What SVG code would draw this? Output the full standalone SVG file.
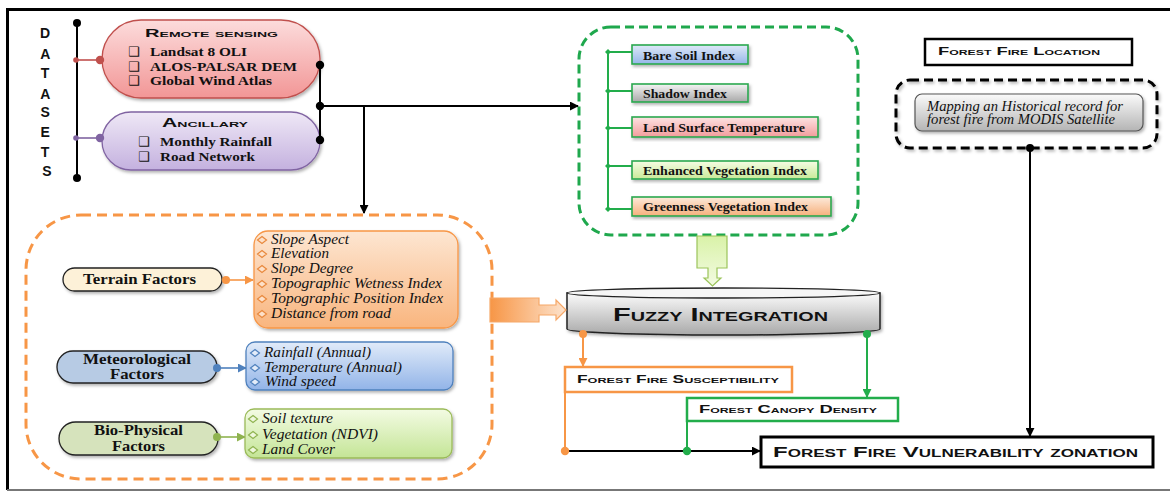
<svg xmlns="http://www.w3.org/2000/svg" width="1170" height="493" viewBox="0 0 1170 493">
  <defs>
    <style>
      .sc { font-family: "Liberation Sans", Arial, sans-serif; font-weight: bold; font-variant: small-caps; fill: #111; }
      .sb { font-family: "Liberation Serif", "Times New Roman", serif; font-weight: bold; fill: #111; }
      .si { font-family: "Liberation Serif", "Times New Roman", serif; font-style: italic; fill: #111; }
      .chk { font-family: "DejaVu Sans", sans-serif; font-size: 13px; fill: #111; }
      .blk { stroke: #000; stroke-width: 2; fill: none; }
      .dot { fill: #000; }
      .gbox { stroke: #2aa84f; stroke-width: 1.6; }
      .grn { stroke: #22ad4b; stroke-width: 2; fill: none; }
      .org { stroke: #f79646; stroke-width: 2; fill: none; }
    </style>
    <filter id="sh" x="-10%" y="-10%" width="125%" height="135%">
      <feDropShadow dx="1.5" dy="2" stdDeviation="1.5" flood-color="#000" flood-opacity="0.3"/>
    </filter>
    <linearGradient id="gRemote" x1="0" y1="0" x2="0" y2="1">
      <stop offset="0" stop-color="#fcdcdc"/><stop offset="1" stop-color="#f29696"/>
    </linearGradient>
    <linearGradient id="gAnc" x1="0" y1="0" x2="0" y2="1">
      <stop offset="0" stop-color="#efe8f6"/><stop offset="1" stop-color="#c4b1df"/>
    </linearGradient>
    <linearGradient id="gBlue" x1="0" y1="0" x2="0" y2="1">
      <stop offset="0" stop-color="#dfe9f8"/><stop offset="1" stop-color="#95b6e9"/>
    </linearGradient>
    <linearGradient id="gGray" x1="0" y1="0" x2="0" y2="1">
      <stop offset="0" stop-color="#f4f4f4"/><stop offset="1" stop-color="#a8a8a8"/>
    </linearGradient>
    <linearGradient id="gRed" x1="0" y1="0" x2="0" y2="1">
      <stop offset="0" stop-color="#fde3e3"/><stop offset="1" stop-color="#f29c9c"/>
    </linearGradient>
    <linearGradient id="gLime" x1="0" y1="0" x2="0" y2="1">
      <stop offset="0" stop-color="#f5fce4"/><stop offset="1" stop-color="#c9ea98"/>
    </linearGradient>
    <linearGradient id="gPeach" x1="0" y1="0" x2="0" y2="1">
      <stop offset="0" stop-color="#fdeadb"/><stop offset="1" stop-color="#f6b07c"/>
    </linearGradient>
    <linearGradient id="gOrangeList" x1="0" y1="0" x2="0" y2="1">
      <stop offset="0" stop-color="#fde6d2"/><stop offset="1" stop-color="#f9b57e"/>
    </linearGradient>
    <linearGradient id="gBlueList" x1="0" y1="0" x2="0" y2="1">
      <stop offset="0" stop-color="#e1ebf9"/><stop offset="1" stop-color="#92b4e8"/>
    </linearGradient>
    <linearGradient id="gGreenList" x1="0" y1="0" x2="0" y2="1">
      <stop offset="0" stop-color="#f3fbe3"/><stop offset="1" stop-color="#c4e596"/>
    </linearGradient>
    <linearGradient id="gCyl" x1="0" y1="0" x2="0" y2="1">
      <stop offset="0" stop-color="#fbfbfb"/><stop offset="1" stop-color="#a9a9a9"/>
    </linearGradient>
    <linearGradient id="gModis" x1="0" y1="0" x2="0" y2="1">
      <stop offset="0" stop-color="#fbfbfb"/><stop offset="1" stop-color="#b4b4b4"/>
    </linearGradient>
    <linearGradient id="gOrArrow" x1="0" y1="0" x2="1" y2="0">
      <stop offset="0" stop-color="#f79646"/><stop offset="1" stop-color="#fde3cd"/>
    </linearGradient>
    <linearGradient id="gGrArrow" x1="0" y1="0" x2="0" y2="1">
      <stop offset="0" stop-color="#d9f2a8"/><stop offset="1" stop-color="#f3fbe2"/>
    </linearGradient>
    <marker id="aBlkL" viewBox="0 0 10 10" refX="9" refY="5" markerWidth="9" markerHeight="9" markerUnits="userSpaceOnUse" orient="auto">
      <path d="M0,0 L10,5 L0,10 Z" fill="#000"/>
    </marker>
    <marker id="aOrg" viewBox="0 0 10 10" refX="9" refY="5" markerWidth="9" markerHeight="9" markerUnits="userSpaceOnUse" orient="auto">
      <path d="M0,0 L10,5 L0,10 Z" fill="#f79646"/>
    </marker>
    <marker id="aGrn" viewBox="0 0 10 10" refX="9" refY="5" markerWidth="9" markerHeight="9" markerUnits="userSpaceOnUse" orient="auto">
      <path d="M0,0 L10,5 L0,10 Z" fill="#22ad4b"/>
    </marker>
    <marker id="aBlu" viewBox="0 0 10 10" refX="9" refY="5" markerWidth="9" markerHeight="9" markerUnits="userSpaceOnUse" orient="auto">
      <path d="M0,0 L10,5 L0,10 Z" fill="#4f81bd"/>
    </marker>
    <marker id="aLim" viewBox="0 0 10 10" refX="9" refY="5" markerWidth="9" markerHeight="9" markerUnits="userSpaceOnUse" orient="auto">
      <path d="M0,0 L10,5 L0,10 Z" fill="#8fb34f"/>
    </marker>
    <marker id="dGrn" viewBox="0 0 10 10" refX="5" refY="5" markerWidth="6" markerHeight="6" markerUnits="userSpaceOnUse">
      <path d="M5,0 L10,5 L5,10 L0,5 Z" fill="#22ad4b"/>
    </marker>
    <!-- list bullet -->
    <path id="dia" d="M0,-3.5 L4.5,0 L0,3.5 L-4.5,0 Z"/>
  </defs>

  <rect width="1170" height="493" fill="#fff"/>

  <!-- page frame -->
  <g id="frame">
    <line x1="7" y1="9.5" x2="1170" y2="9.5" stroke="#000" stroke-width="3"/>
    <line x1="7.5" y1="8" x2="7.5" y2="490" stroke="#000" stroke-width="3"/>
    <line x1="7" y1="490" x2="1170" y2="490" stroke="#777" stroke-width="2"/>
  </g>

  <!-- DATASETS spine -->
  <g id="datasets">
    <text class="sc" font-size="14" text-anchor="middle">
      <tspan x="47" y="38">D</tspan>
      <tspan x="47" y="59">A</tspan>
      <tspan x="47" y="78">T</tspan>
      <tspan x="47" y="99">A</tspan>
      <tspan x="47" y="117">S</tspan>
      <tspan x="47" y="137">E</tspan>
      <tspan x="47" y="157">T</tspan>
      <tspan x="47" y="176">S</tspan>
    </text>
    <line x1="77" y1="23" x2="77" y2="178" stroke="#000" stroke-width="2"/>
    <circle class="dot" cx="77" cy="23" r="4"/>
    <circle class="dot" cx="77" cy="178" r="4"/>
  </g>

  <!-- Remote sensing -->
  <g id="remote-sensing">
    <line x1="76" y1="60" x2="100" y2="60" stroke="#c0504d" stroke-width="1.6"/>
    <circle cx="76" cy="60" r="2.8" fill="#c0504d"/>
    <rect x="102" y="20" width="218" height="78" rx="39" fill="url(#gRemote)" stroke="#c0504d" stroke-width="1.3" filter="url(#sh)"/>
    <circle cx="100" cy="60" r="4.2" fill="#c0504d"/>
    <text class="sc" x="145" y="37" font-size="11.5" textLength="133" lengthAdjust="spacingAndGlyphs">Remote sensing</text>
    <text class="chk" x="128" y="56">❑</text>
    <text class="sb" x="150" y="56" font-size="13" textLength="97" lengthAdjust="spacingAndGlyphs">Landsat 8 OLI</text>
    <text class="chk" x="128" y="71">❑</text>
    <text class="sb" x="150" y="71" font-size="13" textLength="147" lengthAdjust="spacingAndGlyphs">ALOS-PALSAR DEM</text>
    <text class="chk" x="128" y="85">❑</text>
    <text class="sb" x="150" y="85" font-size="13" textLength="122" lengthAdjust="spacingAndGlyphs">Global Wind Atlas</text>
  </g>

  <!-- Ancillary -->
  <g id="ancillary">
    <line x1="76" y1="138" x2="100" y2="138" stroke="#8064a2" stroke-width="1.6"/>
    <circle cx="76" cy="138" r="2.8" fill="#8064a2"/>
    <rect x="102" y="112" width="218" height="58" rx="29" fill="url(#gAnc)" stroke="#8064a2" stroke-width="1.3" filter="url(#sh)"/>
    <circle cx="100" cy="138" r="4.2" fill="#8064a2"/>
    <text class="sc" x="162" y="127" font-size="12" textLength="86" lengthAdjust="spacingAndGlyphs">Ancillary</text>
    <text class="chk" x="138" y="146">❑</text>
    <text class="sb" x="160" y="146" font-size="13" textLength="112" lengthAdjust="spacingAndGlyphs">Monthly Rainfall</text>
    <text class="chk" x="138" y="161">❑</text>
    <text class="sb" x="160" y="161" font-size="13" textLength="95" lengthAdjust="spacingAndGlyphs">Road Network</text>
  </g>

  <!-- Spectral indices -->
  <g id="indices">
    <rect x="579" y="27" width="279" height="208" rx="32" fill="none" stroke="#1fa84d" stroke-width="3" stroke-dasharray="9 5"/>
    <line x1="608" y1="52" x2="608" y2="209" class="grn" stroke-width="1.8"/>
    <polyline points="608,52 632,52" class="grn" stroke-width="1.8" marker-start="url(#dGrn)"/>
    <polyline points="608,91 632,91" class="grn" stroke-width="1.8" marker-start="url(#dGrn)"/>
    <polyline points="608,128 632,128" class="grn" stroke-width="1.8" marker-start="url(#dGrn)"/>
    <polyline points="608,166 632,166" class="grn" stroke-width="1.8" marker-start="url(#dGrn)"/>
    <polyline points="608,209 632,209" class="grn" stroke-width="1.8" marker-start="url(#dGrn)"/>

    <g id="bare-soil">
      <rect x="632" y="45" width="116" height="19" fill="url(#gBlue)" class="gbox" filter="url(#sh)"/>
      <text class="sb" x="643" y="60" font-size="12.5" textLength="92" lengthAdjust="spacingAndGlyphs">Bare Soil Index</text>
    </g>
    <g id="shadow">
      <rect x="632" y="84" width="116" height="18" fill="url(#gGray)" class="gbox" filter="url(#sh)"/>
      <text class="sb" x="643" y="98" font-size="12.5" textLength="84" lengthAdjust="spacingAndGlyphs">Shadow Index</text>
    </g>
    <g id="lst">
      <rect x="632" y="117" width="186" height="20" fill="url(#gRed)" class="gbox" filter="url(#sh)"/>
      <text class="sb" x="643" y="132" font-size="12.5" textLength="162" lengthAdjust="spacingAndGlyphs">Land Surface Temperature</text>
    </g>
    <g id="evi">
      <rect x="632" y="161" width="186" height="18" fill="url(#gLime)" class="gbox" filter="url(#sh)"/>
      <text class="sb" x="643" y="175" font-size="12.5" textLength="164" lengthAdjust="spacingAndGlyphs">Enhanced Vegetation Index</text>
    </g>
    <g id="gvi">
      <rect x="632" y="197" width="199" height="19" fill="url(#gPeach)" class="gbox" filter="url(#sh)"/>
      <text class="sb" x="643" y="211" font-size="12.5" textLength="165" lengthAdjust="spacingAndGlyphs">Greenness Vegetation Index</text>
    </g>
  </g>

  <!-- Forest fire location -->
  <g id="fire-location">
    <rect x="925" y="39" width="207" height="26" fill="#fff" stroke="#000" stroke-width="2.5"/>
    <text class="sc" x="938" y="55" font-size="10.5" textLength="162" lengthAdjust="spacingAndGlyphs">Forest Fire Location</text>
  </g>
  <g id="modis">
    <rect x="896" y="80" width="261" height="68" rx="14" fill="none" stroke="#000" stroke-width="3" stroke-dasharray="9 5" filter="url(#sh)"/>
    <rect x="915" y="94" width="228" height="37" rx="7" fill="url(#gModis)" stroke="#555" stroke-width="1.2" filter="url(#sh)"/>
    <text class="si" x="927" y="111" font-size="14" textLength="196" lengthAdjust="spacingAndGlyphs" fill="#222">Mapping an Historical record for</text>
    <text class="si" x="927" y="124" font-size="14" textLength="188" lengthAdjust="spacingAndGlyphs" fill="#222">forest fire from MODIS Satellite</text>
  </g>

  <!-- Causal factors -->
  <g id="factors">
    <rect x="26" y="215" width="466" height="264" rx="55" fill="none" stroke="#f79646" stroke-width="3" stroke-dasharray="10 6"/>

    <g id="terrain">
      <rect x="63" y="268" width="159" height="23" rx="11.5" fill="#fdf1d8" stroke="#222" stroke-width="1.3" filter="url(#sh)"/>
      <text class="sb" x="139.5" y="284" font-size="15" text-anchor="middle" textLength="113" lengthAdjust="spacingAndGlyphs">Terrain Factors</text>
      <line x1="226" y1="280" x2="253" y2="280" stroke="#f79646" stroke-width="1.6" marker-end="url(#aOrg)"/>
      <circle cx="226" cy="280" r="4" fill="#f79646"/>
      <rect x="254" y="231" width="204" height="97" rx="14" fill="url(#gOrangeList)" stroke="#f79646" stroke-width="1.3" filter="url(#sh)"/>
      <g fill="#fde0c8" stroke="#e8883c" stroke-width="1.2">
        <use href="#dia" x="262" y="240"/>
        <use href="#dia" x="262" y="254"/>
        <use href="#dia" x="262" y="269"/>
        <use href="#dia" x="262" y="284"/>
        <use href="#dia" x="262" y="299"/>
        <use href="#dia" x="262" y="314"/>
      </g>
      <text class="si" x="271" y="244" font-size="14.5" textLength="78" lengthAdjust="spacingAndGlyphs">Slope Aspect</text>
      <text class="si" x="271" y="258" font-size="14.5" textLength="58" lengthAdjust="spacingAndGlyphs">Elevation</text>
      <text class="si" x="271" y="273" font-size="14.5" textLength="82" lengthAdjust="spacingAndGlyphs">Slope Degree</text>
      <text class="si" x="271" y="288" font-size="14.5" textLength="171" lengthAdjust="spacingAndGlyphs">Topographic Wetness Index</text>
      <text class="si" x="271" y="303" font-size="14.5" textLength="172" lengthAdjust="spacingAndGlyphs">Topographic Position Index</text>
      <text class="si" x="271" y="318" font-size="14.5" textLength="120" lengthAdjust="spacingAndGlyphs">Distance from road</text>
    </g>

    <g id="meteorological">
      <rect x="57" y="351" width="160" height="32" rx="16" fill="#b7cbe4" stroke="#222" stroke-width="1.3" filter="url(#sh)"/>
      <text class="sb" x="137" y="364" font-size="15" text-anchor="middle" textLength="108" lengthAdjust="spacingAndGlyphs">Meteorological</text>
      <text class="sb" x="137" y="379" font-size="15" text-anchor="middle" textLength="54" lengthAdjust="spacingAndGlyphs">Factors</text>
      <line x1="217" y1="368" x2="246" y2="368" stroke="#4f81bd" stroke-width="1.6" marker-end="url(#aBlu)"/>
      <circle cx="217" cy="368" r="4" fill="#4f81bd"/>
      <rect x="246" y="342" width="207" height="48" rx="9" fill="url(#gBlueList)" stroke="#4f81bd" stroke-width="1.3" filter="url(#sh)"/>
      <g fill="#e3ecf9" stroke="#4f81bd" stroke-width="1.2">
        <use href="#dia" x="255" y="353"/>
        <use href="#dia" x="255" y="368"/>
        <use href="#dia" x="255" y="382"/>
      </g>
      <text class="si" x="264" y="357" font-size="14.5" textLength="107" lengthAdjust="spacingAndGlyphs">Rainfall (Annual)</text>
      <text class="si" x="264" y="372" font-size="14.5" textLength="138" lengthAdjust="spacingAndGlyphs">Temperature (Annual)</text>
      <text class="si" x="265" y="386" font-size="14.5" textLength="71" lengthAdjust="spacingAndGlyphs">Wind speed</text>
    </g>

    <g id="bio-physical">
      <rect x="59" y="422" width="159" height="33" rx="16.5" fill="#d6e3bc" stroke="#222" stroke-width="1.3" filter="url(#sh)"/>
      <text class="sb" x="138.5" y="435" font-size="15" text-anchor="middle" textLength="89" lengthAdjust="spacingAndGlyphs">Bio-Physical</text>
      <text class="sb" x="138.5" y="451" font-size="15" text-anchor="middle" textLength="53" lengthAdjust="spacingAndGlyphs">Factors</text>
      <line x1="217" y1="437" x2="245" y2="437" stroke="#8fb34f" stroke-width="1.6" marker-end="url(#aLim)"/>
      <circle cx="217" cy="437" r="4" fill="#8fb34f"/>
      <rect x="245" y="409" width="207" height="49" rx="9" fill="url(#gGreenList)" stroke="#9bbb59" stroke-width="1.3" filter="url(#sh)"/>
      <g fill="#eef7dc" stroke="#8fb34f" stroke-width="1.2">
        <use href="#dia" x="253" y="419"/>
        <use href="#dia" x="253" y="435"/>
        <use href="#dia" x="253" y="450"/>
      </g>
      <text class="si" x="262" y="423" font-size="14.5" textLength="71" lengthAdjust="spacingAndGlyphs">Soil texture</text>
      <text class="si" x="262" y="439" font-size="14.5" textLength="116" lengthAdjust="spacingAndGlyphs">Vegetation (NDVI)</text>
      <text class="si" x="262" y="454" font-size="14.5" textLength="73" lengthAdjust="spacingAndGlyphs">Land Cover</text>
    </g>
  </g>

  <!-- Fuzzy integration -->
  <g id="fuzzy">
    <path d="M567,293 L567,329 A156.5,6 0 0 0 880,329 L880,293 Z" fill="url(#gCyl)" stroke="#222" stroke-width="1.5" filter="url(#sh)"/>
    <ellipse cx="723.5" cy="293" rx="156.5" ry="5" fill="#f6f6f6" stroke="#222" stroke-width="1.3"/>
    <text class="sc" x="613" y="321" font-size="17.5" textLength="215" lengthAdjust="spacingAndGlyphs">Fuzzy Integration</text>
  </g>

  <!-- Outputs -->
  <g id="susceptibility">
    <rect x="565" y="367" width="227" height="25" fill="#fff" stroke="#f79646" stroke-width="2.5"/>
    <text class="sc" x="577" y="383" font-size="11" textLength="202" lengthAdjust="spacingAndGlyphs">Forest Fire Susceptibility</text>
  </g>
  <g id="canopy">
    <rect x="687" y="398" width="211" height="23" fill="#fff" stroke="#22ad4b" stroke-width="2.5"/>
    <text class="sc" x="699" y="413" font-size="10.5" textLength="178" lengthAdjust="spacingAndGlyphs">Forest Canopy Density</text>
  </g>
  <g id="vulnerability">
    <rect x="761" y="437" width="392" height="30" fill="#fff" stroke="#000" stroke-width="3"/>
    <text class="sc" x="773" y="457" font-size="15.5" textLength="365" lengthAdjust="spacingAndGlyphs">Forest Fire Vulnerability zonation</text>
  </g>

  <!-- Connectors -->
  <g id="connectors">
    <line x1="320" y1="65" x2="320" y2="140" class="blk"/>
    <line x1="320" y1="106" x2="578" y2="106" class="blk" stroke-width="1.8" marker-end="url(#aBlkL)"/>
    <line x1="364" y1="106" x2="364" y2="213" class="blk" stroke-width="1.8" marker-end="url(#aBlkL)"/>
    <circle class="dot" cx="320" cy="65" r="4.2"/>
    <circle class="dot" cx="320" cy="106" r="4.2"/>
    <circle class="dot" cx="320" cy="140" r="4.2"/>

    <!-- block arrows into the integration step -->
    <polygon points="697,236 727,236 727,268 717,268 717,278 721,278 712.5,286 704,278 708,278 708,268 697,268" fill="url(#gGrArrow)" stroke="#9bc45a" stroke-width="1.2"/>
    <polygon points="490,298 539,298 539,305 556,305 556,300 566,310 556,320 556,315 539,315 539,322 490,322" fill="url(#gOrArrow)" stroke="#f6a868" stroke-width="1.2"/>

    <!-- integration outputs -->
    <line x1="583" y1="334" x2="583" y2="366" class="org" stroke-width="1.6" marker-end="url(#aOrg)"/>
    <circle cx="583" cy="334" r="4" fill="#f79646"/>
    <line x1="867" y1="334" x2="867" y2="397" class="grn" stroke-width="1.6" marker-end="url(#aGrn)"/>
    <circle cx="867" cy="334" r="4" fill="#22ad4b"/>

    <!-- merge into vulnerability zonation -->
    <polyline points="565,392 565,451" class="org"/>
    <polyline points="687,421 687,451" class="grn"/>
    <line x1="565" y1="451" x2="760" y2="451" class="blk" stroke-width="1.8" marker-end="url(#aBlkL)"/>
    <circle cx="565" cy="451" r="4.2" fill="#f79646"/>
    <circle cx="687" cy="451" r="4.2" fill="#22ad4b"/>

    <line x1="1030" y1="148" x2="1030" y2="436" class="blk" stroke-width="2.2" marker-end="url(#aBlkL)"/>
    <circle class="dot" cx="1030" cy="148" r="4"/>
  </g>
</svg>
